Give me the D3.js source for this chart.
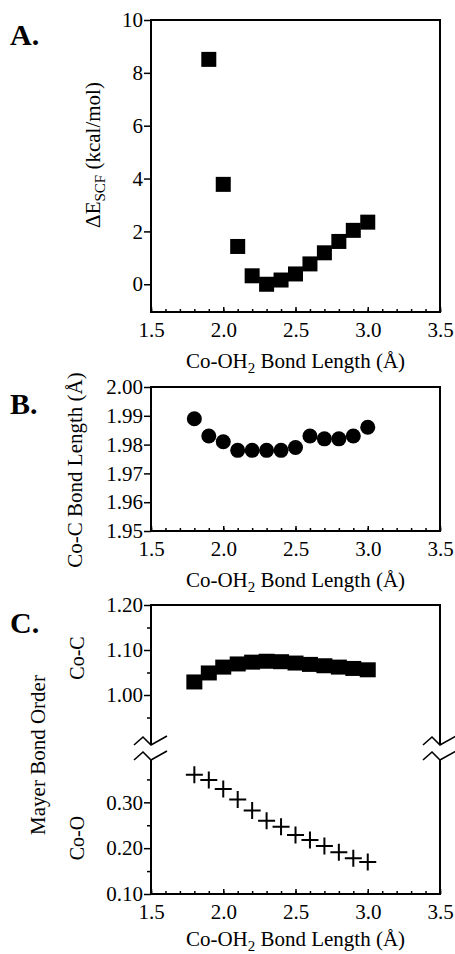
<!DOCTYPE html>
<html>
<head>
<meta charset="utf-8">
<script src="https://cdn.jsdelivr.net/npm/d3@7/dist/d3.min.js"></script>
<style>
  body { margin: 0; background: #fff; }
  svg { display: block; }
  text { font-family: "Liberation Serif", "DejaVu Serif", serif; fill: #000; }
  .tick text { font-size: 21px; }
  .tick line { stroke: #000; stroke-width: 1.5; }
</style>
</head>
<body>
<svg width="455" height="954"></svg>
<script>
// panel A: energy vs Co-OH2 bond length
const bondA = [1.9, 2.0, 2.1, 2.2, 2.3, 2.4, 2.5, 2.6, 2.7, 2.8, 2.9, 3.0];
const energyA = [8.51, 3.78, 1.43, 0.32, 0.0, 0.16, 0.39, 0.77, 1.19, 1.62, 2.04, 2.35];

// panel B and C share the same scan
const bondBC = [1.8, 1.9, 2.0, 2.1, 2.2, 2.3, 2.4, 2.5, 2.6, 2.7, 2.8, 2.9, 3.0];
const coCLength = [1.989, 1.983, 1.981, 1.978, 1.978, 1.978, 1.978, 1.979, 1.983, 1.982, 1.982, 1.983, 1.986];
const coCOrder = [1.029, 1.049, 1.062, 1.069, 1.073, 1.075, 1.074, 1.071, 1.068, 1.065, 1.062, 1.059, 1.056];
const coOOrder = [0.360, 0.349, 0.329, 0.306, 0.282, 0.260, 0.247, 0.229, 0.218, 0.205, 0.191, 0.178, 0.170];

const xTicks = [1.5, 2.0, 2.5, 3.0, 3.5];
const xMinor = d3.range(15, 36).map(d => d / 10);
const yTicksA = [0, 2, 4, 6, 8, 10];
const yTicksB = [1.95, 1.96, 1.97, 1.98, 1.99, 2.00];
const yTicksCUp = [1.00, 1.10, 1.20];
const yMinorCUp = [0.95, 1.05, 1.15];
const yTicksCLo = [0.10, 0.20, 0.30];
const yMinorCLo = [0.15, 0.25, 0.35];

const svg = d3.select('svg');
const left = 151, right = 440;

const x = d3.scaleLinear().domain([1.5, 3.5]).range([left, right]);

// bottom axis with inward ticks, labels and title
const bottomAxis = (g, yPos, titleOffset) => {
    g.append('g')
        .attr('transform', `translate(0,${yPos})`)
        .call(d3.axisBottom(x).tickValues(xMinor).tickFormat('').tickSizeInner(-3).tickSizeOuter(0))
        .call(s => s.select('.domain').remove());
    g.append('g')
        .attr('transform', `translate(0,${yPos})`)
        .call(d3.axisBottom(x).tickValues(xTicks).tickFormat(d3.format('.1f')).tickSizeInner(-5).tickSizeOuter(0).tickPadding(10))
        .call(s => s.select('.domain').remove());
    const t = g.append('text')
        .attr('x', (left + right) / 2)
        .attr('y', yPos + (titleOffset || 56))
        .attr('text-anchor', 'middle')
        .style('font-size', '21px');
    t.append('tspan').text('Co-OH');
    t.append('tspan').attr('dy', 5).style('font-size', '15px').text('2');
    t.append('tspan').attr('dy', -5).text(' Bond Length (Å)');
};

const leftAxis = (g, scale, ticks, fmt, minor) => {
    if (minor) {
        g.append('g')
            .attr('transform', `translate(${left},0)`)
            .call(d3.axisLeft(scale).tickValues(minor).tickFormat('').tickSizeInner(4).tickSizeOuter(0))
            .call(s => s.select('.domain').remove());
    }
    g.append('g')
        .attr('transform', `translate(${left},0)`)
        .call(d3.axisLeft(scale).tickValues(ticks).tickFormat(d3.format(fmt)).tickSizeInner(7).tickSizeOuter(0).tickPadding(1))
        .call(s => s.select('.domain').remove());
};

const frame = (g, top, bottom) => {
    g.append('rect')
        .attr('x', left).attr('y', top)
        .attr('width', right - left).attr('height', bottom - top)
        .attr('fill', 'none').attr('stroke', '#000').attr('stroke-width', 2);
};

const panelLabel = (txt, yPos) => {
    svg.append('text')
        .attr('x', 10).attr('y', yPos)
        .style('font-size', '30px').style('font-weight', 'bold')
        .text(txt);
};

const yTitle = (txt, cx, cy, size) => {
    return svg.append('text')
        .attr('transform', `translate(${cx},${cy}) rotate(-90)`)
        .attr('text-anchor', 'middle')
        .style('font-size', (size || 21) + 'px')
        .text(txt);
};

//PANEL A
const yA = d3.scaleLinear().domain([-1.05, 10]).range([312, 20]);
const gA = svg.append('g');
frame(gA, yA(10), yA(-1.05));
bottomAxis(gA, yA(-1.05));
leftAxis(gA, yA, yTicksA, 'd');
gA.selectAll('rect.pt').data(bondA)
    .enter().append('rect')
        .attr('class', 'pt')
        .attr('x', (d, i) => x(d) - 7.5)
        .attr('y', (d, i) => yA(energyA[i]) - 7.5)
        .attr('width', 15).attr('height', 15)
        .attr('fill', '#000');
panelLabel('A.', 45);
const tA = svg.append('text')
    .attr('transform', 'translate(100,155) rotate(-90)')
    .attr('text-anchor', 'middle')
    .style('font-size', '21px');
tA.append('tspan').text('ΔE');
tA.append('tspan').attr('dy', 5).style('font-size', '15px').text('SCF');
tA.append('tspan').attr('dy', -5).text(' (kcal/mol)');

//PANEL B
const yB = d3.scaleLinear().domain([1.95, 2.00]).range([531, 387]);
const gB = svg.append('g');
frame(gB, yB(2.00), yB(1.95));
bottomAxis(gB, yB(1.95));
leftAxis(gB, yB, yTicksB, '.2f');
gB.selectAll('circle').data(bondBC)
    .enter().append('circle')
        .attr('cx', d => x(d))
        .attr('cy', (d, i) => yB(coCLength[i]))
        .attr('r', 7.5)
        .attr('fill', '#000');
panelLabel('B.', 414);
yTitle('Co-C Bond Length (Å)', 82, 470);

//PANEL C (broken axis)
const yCUp = d3.scaleLinear().domain([0.9, 1.2]).range([740, 605]);
const yCLo = d3.scaleLinear().domain([0.1, 0.4]).range([894, 756.5]);
const gC = svg.append('g');
const cTop = yCUp(1.2), cBot = yCLo(0.1);
const brk1 = yCUp(0.9) + 5, brk2 = yCLo(0.4) + 3.5;

gC.append('line').attr('x1', left).attr('x2', right).attr('y1', cTop).attr('y2', cTop);
gC.append('line').attr('x1', left).attr('x2', right).attr('y1', cBot).attr('y2', cBot);
[left, right].forEach(xp => {
    gC.append('line').attr('x1', xp).attr('x2', xp).attr('y1', cTop - 1).attr('y2', brk1);
    gC.append('line').attr('x1', xp).attr('x2', xp).attr('y1', brk2).attr('y2', cBot + 1);
    [brk1, brk2].forEach(yb => {
        gC.append('path')
            .attr('d', `M${xp - 17},${yb} L${xp - 8},${yb - 8} L${xp},${yb} L${xp + 16},${yb - 9}`)
            .attr('fill', 'none').attr('stroke', '#000').attr('stroke-width', 1.6);
    });
});
gC.selectAll('line').attr('stroke', '#000').attr('stroke-width', 2);

bottomAxis(gC, cBot, 52);
leftAxis(gC, yCUp, yTicksCUp, '.2f', yMinorCUp);
leftAxis(gC, yCLo, yTicksCLo, '.2f', yMinorCLo);

gC.selectAll('rect.sq').data(bondBC)
    .enter().append('rect')
        .attr('class', 'sq')
        .attr('x', d => x(d) - 8)
        .attr('y', (d, i) => yCUp(coCOrder[i]) - 7.5)
        .attr('width', 16).attr('height', 15)
        .attr('fill', '#000');

gC.selectAll('path.cr').data(bondBC)
    .enter().append('path')
        .attr('class', 'cr')
        .attr('d', 'M-8.5,0H8.5M0,-8.5V8.5')
        .attr('transform', (d, i) => `translate(${x(d)},${yCLo(coOOrder[i])})`)
        .attr('stroke', '#000').attr('stroke-width', 2).attr('fill', 'none');

panelLabel('C.', 633);
yTitle('Mayer Bond Order', 45, 755);
yTitle('Co-C', 84, 658, 20);
yTitle('Co-O', 84, 838, 20);
</script>
</body>
</html>
